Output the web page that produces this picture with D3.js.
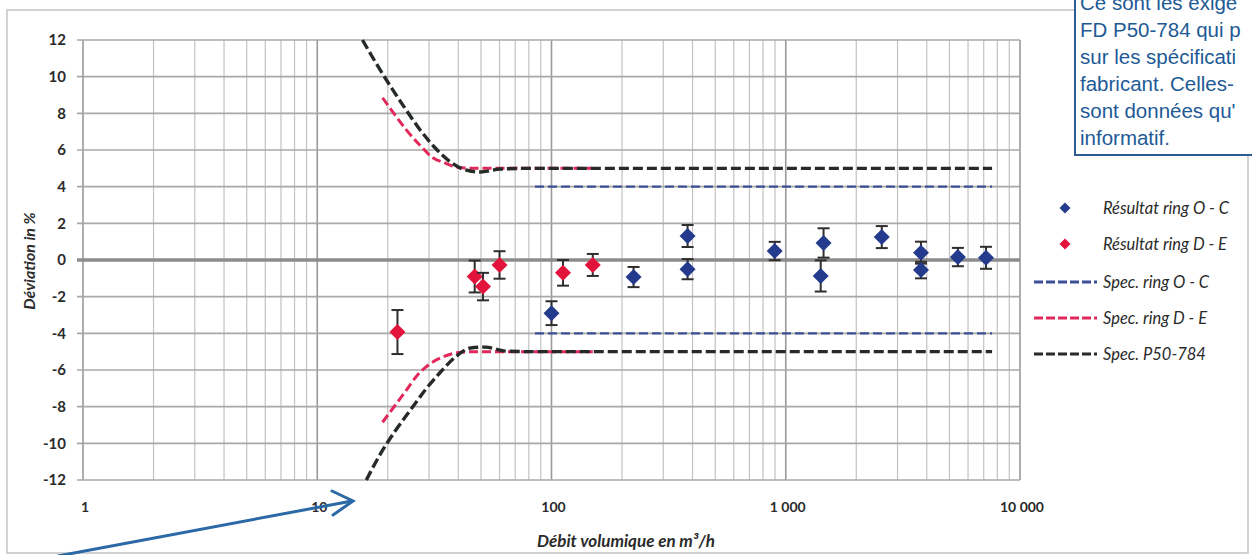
<!DOCTYPE html>
<html>
<head>
<meta charset="utf-8">
<script src="https://cdn.jsdelivr.net/npm/d3@7"></script>
<style>
  html, body { margin: 0; padding: 0; background: #fff; }
  svg { display: block; }
</style>
</head>
<body>
<div id="root"></div>
<script>
// flows in m3/h, deviations in %
const ocFlow = [100, 224, 381, 381, 897, 1410, 1450, 2570, 3780, 3780, 5430, 7160];
const ocDev = [-2.9, -0.93, 1.31, -0.5, 0.49, -0.87, 0.93, 1.25, 0.4, -0.55, 0.16, 0.12];
const ocErr = [0.65, 0.55, 0.6, 0.55, 0.5, 0.85, 0.8, 0.6, 0.6, 0.45, 0.5, 0.6];

const deFlow = [22, 47, 51, 60, 112, 150];
const deDev = [-3.93, -0.9, -1.45, -0.27, -0.7, -0.27];
const deErr = [1.2, 0.87, 0.75, 0.75, 0.7, 0.6];

const specOcFlow = [85, 7600];
const specOcUp = [4, 4];
const specOcLow = [-4, -4];

const specDeUpFlow = [19, 21.5, 24, 27.5, 31, 35, 40, 47, 150];
const specDeUp = [8.85, 7.9, 7.1, 6.25, 5.6, 5.3, 5.05, 5.0, 5.0];
const specDeLowFlow = [19, 21, 23.7, 26.7, 30, 33.5, 40, 47, 150];
const specDeLow = [-8.85, -8.1, -7.2, -6.3, -5.7, -5.35, -5.05, -5.0, -5.0];

const p50UpFlow = [15.6, 17.7, 20.5, 23.8, 27.5, 31.9, 37, 42.9, 49.7, 60.5, 81.3, 7600];
const p50Up = [12.0, 10.8, 9.49, 8.24, 7.09, 6.11, 5.35, 4.91, 4.8, 4.96, 5.0, 5.0];
const p50LowFlow = [16.2, 18.6, 21.5, 25, 28.9, 33.6, 38.9, 45.1, 52.2, 63.6, 81.3, 7600];
const p50Low = [-12, -10.58, -9.33, -8.18, -7.09, -6.11, -5.29, -4.8, -4.75, -4.97, -5.0, -5.0];

const yTicks = [-12, -10, -8, -6, -4, -2, 0, 2, 4, 6, 8, 10, 12];
const xTickValues = [1, 10, 100, 1000, 10000];
const xTickLabels = ["1", "10", "100", "1 000", "10 000"];

const legendLabels = ["Résultat ring O - C", "Résultat ring D - E", "Spec. ring O - C", "Spec. ring D - E", "Spec. P50-784"];
const noteLines = ["Ce sont les exige", "FD P50-784 qui p", "sur les spécificati", "fabricant. Celles-", "sont données qu'", "informatif."];

const width = 1252;
const height = 555;
const blue = "#243a8c";
const red = "#e3143c";
const specBlue = "#3b4f98";
const specRed = "#e2285a";
const specBlack = "#262b27";
const barColor = "#2e2e2e";

const svg = d3.select("#root")
  .append("svg")
  .attr("width", width)
  .attr("height", height)
  .attr("viewBox", `0 0 ${width} ${height}`);

const x = d3.scaleLog().domain([1, 10000]).range([83, 1020]);
const y = d3.scaleLinear().domain([-12, 12]).range([480, 40]);

// outer chart frame
svg.append("path")
  .attr("d", "M1075,10 H7 V553 H1248 V150")
  .attr("fill", "none")
  .attr("stroke", "#c4c4c4")
  .attr("stroke-width", 1.5);

// vertical grid (log minors + decades)
const vLines = [];
[1, 10, 100, 1000].forEach((d) => {
  for (let m = 1; m <= 9; m++) vLines.push({ v: d * m, major: m === 1 });
});
vLines.push({ v: 10000, major: true });

svg.append("g")
  .selectAll("line")
  .data(vLines)
  .join("line")
  .attr("x1", (d) => x(d.v))
  .attr("x2", (d) => x(d.v))
  .attr("y1", y(12))
  .attr("y2", y(-12))
  .attr("stroke", (d) => (d.major ? "#999" : "#c2c2c2"))
  .attr("stroke-width", (d) => (d.major ? 1.6 : 1.2));

// horizontal grid
svg.append("g")
  .selectAll("line")
  .data(yTicks)
  .join("line")
  .attr("x1", x(1) - 6)
  .attr("x2", x(10000))
  .attr("y1", (d) => y(d))
  .attr("y2", (d) => y(d))
  .attr("stroke", (d) => (d === 0 ? "#8c8c8c" : "#a8a8a8"))
  .attr("stroke-width", (d) => (d === 0 ? 3.5 : 1.6));

// y labels
svg.append("g")
  .selectAll("text")
  .data(yTicks)
  .join("text")
  .text((d) => d)
  .attr("x", 66)
  .attr("y", (d) => y(d))
  .attr("dy", "0.35em")
  .attr("text-anchor", "end")
  .attr("font-family", "Lato, sans-serif")
  .attr("font-weight", 700)
  .attr("font-size", 15)
  .attr("fill", "#2b2b2b");

// x labels
svg.append("g")
  .selectAll("text")
  .data(xTickValues)
  .join("text")
  .text((d, i) => xTickLabels[i])
  .attr("x", (d) => x(d) + 2)
  .attr("y", 507)
  .attr("dy", "0.35em")
  .attr("text-anchor", "middle")
  .attr("font-family", "Lato, sans-serif")
  .attr("font-weight", 700)
  .attr("font-size", 14)
  .attr("fill", "#2b2b2b");

// axis titles
svg.append("text")
  .text("Débit volumique en m³/h")
  .attr("x", 626)
  .attr("y", 541)
  .attr("dy", "0.35em")
  .attr("text-anchor", "middle")
  .attr("font-family", "Lato, sans-serif")
  .attr("font-weight", 700)
  .attr("font-style", "italic")
  .attr("font-size", 17)
  .attr("fill", "#2b2b2b");

svg.append("text")
  .text("Déviation in %")
  .attr("transform", "translate(29,261) rotate(-90)")
  .attr("dy", "0.35em")
  .attr("text-anchor", "middle")
  .attr("font-family", "Lato, sans-serif")
  .attr("font-weight", 700)
  .attr("font-style", "italic")
  .attr("font-size", 16)
  .attr("fill", "#2b2b2b");

// spec lines
const line = d3.line()
  .x((d) => x(d[0]))
  .y((d) => y(d[1]))
  .curve(d3.curveMonotoneX);

const specs = [
  { flow: specOcFlow, dev: specOcUp, color: specBlue, w: 2.4, dash: "9,4" },
  { flow: specOcFlow, dev: specOcLow, color: specBlue, w: 2.4, dash: "9,4" },
  { flow: specDeUpFlow, dev: specDeUp, color: specRed, w: 3, dash: "9,4" },
  { flow: specDeLowFlow, dev: specDeLow, color: specRed, w: 3, dash: "9,4" },
  { flow: p50UpFlow, dev: p50Up, color: specBlack, w: 3.4, dash: "10,4" },
  { flow: p50LowFlow, dev: p50Low, color: specBlack, w: 3.4, dash: "10,4" },
];

svg.append("g")
  .selectAll("path")
  .data(specs)
  .join("path")
  .attr("d", (s) => line(s.flow.map((f, i) => [f, s.dev[i]])))
  .attr("fill", "none")
  .attr("stroke", (s) => s.color)
  .attr("stroke-width", (s) => s.w)
  .attr("stroke-dasharray", (s) => s.dash);

// results with error bars
const results = [
  ...ocFlow.map((f, i) => ({ f, v: ocDev[i], e: ocErr[i], c: blue })),
  ...deFlow.map((f, i) => ({ f, v: deDev[i], e: deErr[i], c: red })),
];

const diamond = (r) => `M0,${-r} L${r},0 L0,${r} L${-r},0 Z`;

const pts = svg.append("g")
  .selectAll("g")
  .data(results)
  .join("g")
  .attr("transform", (d) => `translate(${x(d.f)},0)`);

pts.append("line")
  .attr("y1", (d) => y(d.v + d.e))
  .attr("y2", (d) => y(d.v - d.e))
  .attr("stroke", barColor)
  .attr("stroke-width", 2);

pts.selectAll("line.cap")
  .data((d) => [d.v + d.e, d.v - d.e])
  .join("line")
  .attr("class", "cap")
  .attr("x1", -6)
  .attr("x2", 6)
  .attr("y1", (d) => y(d))
  .attr("y2", (d) => y(d))
  .attr("stroke", barColor)
  .attr("stroke-width", 2);

pts.append("path")
  .attr("d", diamond(8))
  .attr("transform", (d) => `translate(0,${y(d.v)})`)
  .attr("fill", (d) => d.c);

// legend
const legendY = [208, 244, 282, 318, 354];
const legend = svg.append("g")
  .selectAll("g")
  .data(legendLabels)
  .join("g")
  .attr("transform", (d, i) => `translate(0,${legendY[i]})`);

legend.filter((d, i) => i < 2)
  .append("path")
  .attr("d", diamond(5.5))
  .attr("transform", "translate(1065,0)")
  .attr("fill", (d, i) => (i === 0 ? blue : red));

legend.filter((d, i) => i >= 2)
  .append("line")
  .attr("x1", 1034)
  .attr("x2", 1097)
  .attr("stroke", (d, i) => [specBlue, specRed, specBlack][i])
  .attr("stroke-width", 3)
  .attr("stroke-dasharray", "9,3");

legend.append("text")
  .text((d) => d)
  .attr("x", 1103)
  .attr("dy", "0.35em")
  .attr("font-family", "Lato, sans-serif")
  .attr("font-style", "italic")
  .attr("font-size", 16.5)
  .attr("fill", "#2a2a2a");

// note box
const note = svg.append("g");
note.append("rect")
  .attr("x", 1075)
  .attr("y", -10)
  .attr("width", 200)
  .attr("height", 165)
  .attr("fill", "#fff")
  .attr("stroke", "#2c5e94")
  .attr("stroke-width", 2);

note.selectAll("text")
  .data(noteLines)
  .join("text")
  .text((d) => d)
  .attr("x", 1080)
  .attr("y", (d, i) => 10 + i * 27)
  .attr("font-family", "'Liberation Sans', Arial, sans-serif")
  .attr("font-size", 20.5)
  .attr("fill", "#1d5a96");

// arrow
const arrow = svg.append("g")
  .attr("stroke", "#2b68a6")
  .attr("stroke-width", 3)
  .attr("fill", "none")
  .attr("stroke-linecap", "round");
arrow.append("line").attr("x1", 58).attr("y1", 556).attr("x2", 352).attr("y2", 501);
arrow.append("path").attr("d", "M332,491 L353,501 L333,515");
</script>
</body>
</html>
